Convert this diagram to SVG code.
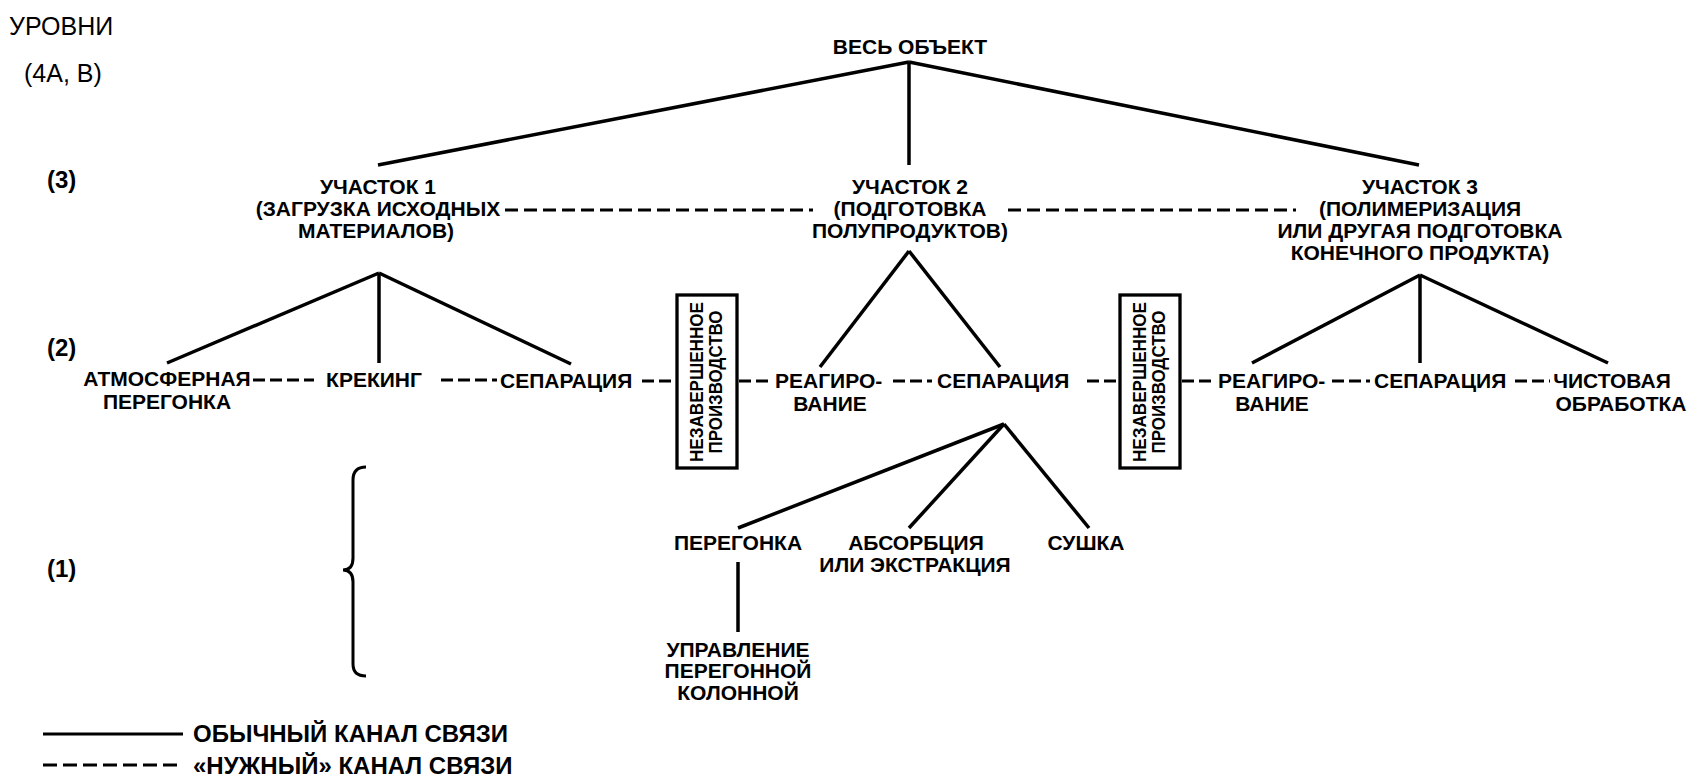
<svg xmlns="http://www.w3.org/2000/svg" width="1702" height="779" viewBox="0 0 1702 779">
<style>
text{font-family:"Liberation Sans",Arial,sans-serif;fill:#000}
.n{font-size:21px;font-weight:bold}
.c{text-anchor:middle}
.lv{font-size:24px;font-weight:bold}
.hd{font-size:25px}
.lg{font-size:24px;font-weight:bold}
.bx{font-size:19px;font-weight:bold;text-anchor:middle}
.s{stroke:#000;stroke-width:3.5;fill:none;stroke-linecap:butt}
.d{stroke:#000;stroke-width:3.2;fill:none;stroke-dasharray:13 6}
.d2{stroke:#000;stroke-width:3.2;fill:none;stroke-dasharray:12 5}
.box{fill:#fff;stroke:#000;stroke-width:3.3}
</style>
<rect width="1702" height="779" fill="#fff"/>

<g id="connectors">
  <line class="s" x1="909" y1="62" x2="378" y2="165"/>
  <line class="s" x1="909" y1="62" x2="909" y2="165"/>
  <line class="s" x1="909" y1="62" x2="1419" y2="165"/>
  <line class="d" x1="505" y1="210" x2="813" y2="210"/>
  <line class="d" x1="1008" y1="210" x2="1296" y2="210"/>
  <line class="s" x1="379" y1="273" x2="167" y2="363"/>
  <line class="s" x1="379" y1="273" x2="379" y2="363"/>
  <line class="s" x1="379" y1="273" x2="571" y2="364"/>
  <line class="s" x1="909" y1="251" x2="820" y2="367"/>
  <line class="s" x1="909" y1="251" x2="1000" y2="367"/>
  <line class="s" x1="1420" y1="275" x2="1252" y2="363"/>
  <line class="s" x1="1420" y1="275" x2="1420" y2="363"/>
  <line class="s" x1="1420" y1="275" x2="1608" y2="363"/>
  <line class="d2" x1="253" y1="380" x2="314" y2="380"/>
  <line class="d2" x1="441" y1="380" x2="497" y2="380"/>
  <line class="d2" x1="642" y1="381" x2="677" y2="381"/>
  <line class="d2" x1="739" y1="381" x2="771" y2="381"/>
  <line class="d2" x1="893" y1="381" x2="932" y2="381"/>
  <line class="d2" x1="1087" y1="381" x2="1120" y2="381"/>
  <line class="d2" x1="1182" y1="381" x2="1214" y2="381"/>
  <line class="d2" x1="1332" y1="381" x2="1370" y2="381"/>
  <line class="d2" x1="1515" y1="381" x2="1550" y2="381"/>
  <line class="s" x1="1004" y1="424" x2="738" y2="528"/>
  <line class="s" x1="1004" y1="424" x2="909" y2="528"/>
  <line class="s" x1="1004" y1="424" x2="1089" y2="528"/>
  <line class="s" x1="738" y1="562" x2="738" y2="632"/>
</g>

<g id="levels-title">
  <text class="hd" x="9" y="35">УРОВНИ</text>
  <text class="hd" x="24" y="82">(4А, В)</text>
</g>
<g id="level-3"><text class="lv" x="47" y="188">(3)</text></g>
<g id="level-2"><text class="lv" x="47" y="356">(2)</text></g>
<g id="level-1"><text class="lv" x="47" y="577">(1)</text></g>

<g id="n-whole"><text class="n c" x="910" y="54">ВЕСЬ ОБЪЕКТ</text></g>

<g id="n-sec1">
  <text class="n c" x="378" y="194">УЧАСТОК 1</text>
  <text class="n c" x="378" y="216">(ЗАГРУЗКА ИСХОДНЫХ</text>
  <text class="n c" x="376" y="238">МАТЕРИАЛОВ)</text>
</g>
<g id="n-sec2">
  <text class="n c" x="910" y="194">УЧАСТОК 2</text>
  <text class="n c" x="910" y="216">(ПОДГОТОВКА</text>
  <text class="n c" x="910" y="238">ПОЛУПРОДУКТОВ)</text>
</g>
<g id="n-sec3">
  <text class="n c" x="1420" y="194">УЧАСТОК 3</text>
  <text class="n c" x="1420" y="216">(ПОЛИМЕРИЗАЦИЯ</text>
  <text class="n c" x="1420" y="238">ИЛИ ДРУГАЯ ПОДГОТОВКА</text>
  <text class="n c" x="1420" y="260">КОНЕЧНОГО ПРОДУКТА)</text>
</g>

<g id="n-atm">
  <text class="n c" x="167" y="386">АТМОСФЕРНАЯ</text>
  <text class="n c" x="167" y="409">ПЕРЕГОНКА</text>
</g>
<g id="n-crack"><text class="n c" x="374" y="387">КРЕКИНГ</text></g>
<g id="n-sep1"><text class="n" x="500" y="388">СЕПАРАЦИЯ</text></g>
<g id="n-wip1">
  <rect class="box" x="677" y="295" width="60" height="173"/>
  <text class="bx" transform="translate(703,382) rotate(-90)" textLength="160" lengthAdjust="spacingAndGlyphs">НЕЗАВЕРШЕННОЕ</text>
  <text class="bx" transform="translate(722,382) rotate(-90)" textLength="143" lengthAdjust="spacingAndGlyphs">ПРОИЗВОДСТВО</text>
</g>
<g id="n-react2">
  <text class="n" x="775" y="388">РЕАГИРО-</text>
  <text class="n c" x="830" y="411">ВАНИЕ</text>
</g>
<g id="n-sep2"><text class="n" x="937" y="388">СЕПАРАЦИЯ</text></g>
<g id="n-wip2">
  <rect class="box" x="1120" y="295" width="60" height="173"/>
  <text class="bx" transform="translate(1146,382) rotate(-90)" textLength="160" lengthAdjust="spacingAndGlyphs">НЕЗАВЕРШЕННОЕ</text>
  <text class="bx" transform="translate(1165,382) rotate(-90)" textLength="143" lengthAdjust="spacingAndGlyphs">ПРОИЗВОДСТВО</text>
</g>
<g id="n-react3">
  <text class="n" x="1218" y="388">РЕАГИРО-</text>
  <text class="n c" x="1272" y="411">ВАНИЕ</text>
</g>
<g id="n-sep3"><text class="n" x="1374" y="388">СЕПАРАЦИЯ</text></g>
<g id="n-finish">
  <text class="n c" x="1612" y="388">ЧИСТОВАЯ</text>
  <text class="n c" x="1621" y="411">ОБРАБОТКА</text>
</g>

<g id="n-distill"><text class="n c" x="738" y="550">ПЕРЕГОНКА</text></g>
<g id="n-absorb">
  <text class="n c" x="916" y="550">АБСОРБЦИЯ</text>
  <text class="n c" x="915" y="572">ИЛИ ЭКСТРАКЦИЯ</text>
</g>
<g id="n-dry"><text class="n c" x="1086" y="550">СУШКА</text></g>
<g id="n-control">
  <text class="n c" x="738" y="657">УПРАВЛЕНИЕ</text>
  <text class="n c" x="738" y="678">ПЕРЕГОННОЙ</text>
  <text class="n c" x="738" y="700">КОЛОННОЙ</text>
</g>

<g id="brace">
  <path class="s" style="stroke-width:3" d="M366,467 Q353,467 353,480 L353,558 Q353,570 343,570 Q353,570 353,582 L353,664 Q353,676 366,676"/>
</g>

<g id="legend">
  <line class="s" style="stroke-width:3" x1="43" y1="734" x2="183" y2="734"/>
  <text class="lg" x="193" y="742">ОБЫЧНЫЙ КАНАЛ СВЯЗИ</text>
  <line class="d" style="stroke-dasharray:14 6" x1="43" y1="765" x2="183" y2="765"/>
  <text class="lg" x="193" y="774">«НУЖНЫЙ» КАНАЛ СВЯЗИ</text>
</g>
</svg>
